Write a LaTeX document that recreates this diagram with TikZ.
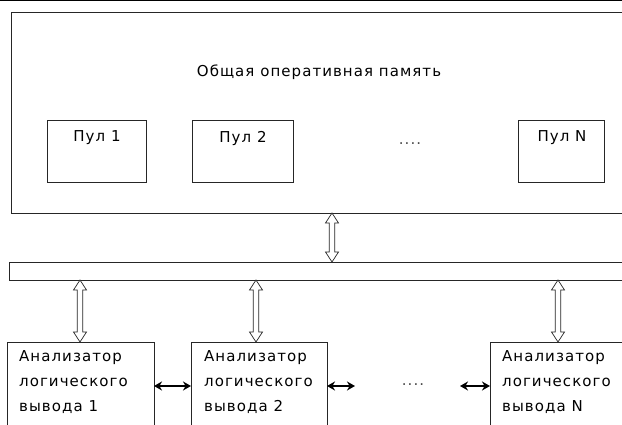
\documentclass[tikz,border=0pt]{standalone}
\usepackage{fontspec}
\setmainfont[LetterSpace=7]{DejaVu Sans}
\usetikzlibrary{calc,arrows.meta}
\tikzset{
  box/.style={draw=black!85, line width=0.8pt, inner sep=0pt, outer sep=0pt, fill=white},
  txt/.style={inner sep=0pt, font=\fontsize{15}{25}\selectfont},
  % hollow two-headed arrow drawn as an outline (vertical, start above target)
  hollow/.style={draw=black!85, line width=0.7pt, fill=white, to path={
    let \p1=(\tikztostart), \p2=(\tikztotarget) in
    (\x1,\y1) -- (\x1+6.5pt,\y1-10pt) -- (\x1+2.8pt,\y1-10pt) -- (\x1+2.8pt,\y2+10pt)
    -- (\x1+6.5pt,\y2+10pt) -- (\x1,\y2) -- (\x1-6.5pt,\y2+10pt) -- (\x1-2.8pt,\y2+10pt)
    -- (\x1-2.8pt,\y1-10pt) -- (\x1-6.5pt,\y1-10pt) -- cycle}},
  link/.style={line width=1.7pt, {Stealth[length=8pt,width=9pt]}-{Stealth[length=8pt,width=9pt]}}
}
\begin{document}
\begin{tikzpicture}[x=1pt,y=-1pt]
\useasboundingbox (0,0) rectangle (622,425);
\clip (0,0) rectangle (622,425);
\fill[white] (0,0) rectangle (622,425);

% rule along the upper edge
\coordinate (tl) at (0,0.6);
\coordinate (tr) at (622,0.6);
\draw[line width=1.3pt] (tl) -- (tr);

% shared memory with its pools
\node[box, minimum width=619, minimum height=201] (mem) at (320.5,112.5) {};
\node[txt] (memt) at (319,72) {Общая оперативная память};
\node[box, minimum width=99, minimum height=62] (p1) at (96.5,151) {};
\node[box, minimum width=101, minimum height=62] (p2) at (242.5,151) {};
\node[box, minimum width=86, minimum height=62] (pn) at (561,151) {};
\node[txt] (p1t) at (97,138) {Пул 1};
\node[txt] (p2t) at (243,138) {Пул 2};
\node[txt] (pnt) at (562,138) {Пул N};
\node[txt, text=black!70] (pdots) at (410,144) {....};

% bus
\node[box, minimum width=621, minimum height=18] (bus) at (319.5,271) {};

% inference analysers
\node[box, minimum width=147, minimum height=98] (a1) at (80.5,391) {};
\node[box, minimum width=136, minimum height=98] (a2) at (259,391) {};
\node[box, minimum width=150, minimum height=98] (an) at (565,391) {};
\node[txt, align=left, anchor=north west] (a1t) at (19,350) {Анализатор\\логического\\вывода 1};
\node[txt, align=left, anchor=north west] (a2t) at (204,350) {Анализатор\\логического\\вывода 2};
\node[txt, align=left, anchor=north west] (ant) at (502,350) {Анализатор\\логического\\вывода N};
\node[txt, text=black!70] (adots) at (413,385) {....};

% memory <-> bus and bus <-> analysers
\coordinate (xm) at (332,0);
\coordinate (x1) at (80,0);
\coordinate (x2) at (256,0);
\coordinate (xn) at (558,0);
\draw[hollow] (mem.south -| xm) to (bus.north -| xm);
\draw[hollow] (bus.south -| x1) to (a1.north -| x1);
\draw[hollow] (bus.south -| x2) to (a2.north -| x2);
\draw[hollow] (bus.south -| xn) to (an.north -| xn);

% links between neighbouring analysers
\coordinate (yl) at (0,386);
\coordinate (e2) at (355,386);
\coordinate (en) at (460,386);
\draw[link] (a1.east |- yl) -- (a2.west |- yl);
\draw[link] (a2.east |- yl) -- (e2);
\draw[link] (en) -- (an.west |- yl);
\end{tikzpicture}
\end{document}
